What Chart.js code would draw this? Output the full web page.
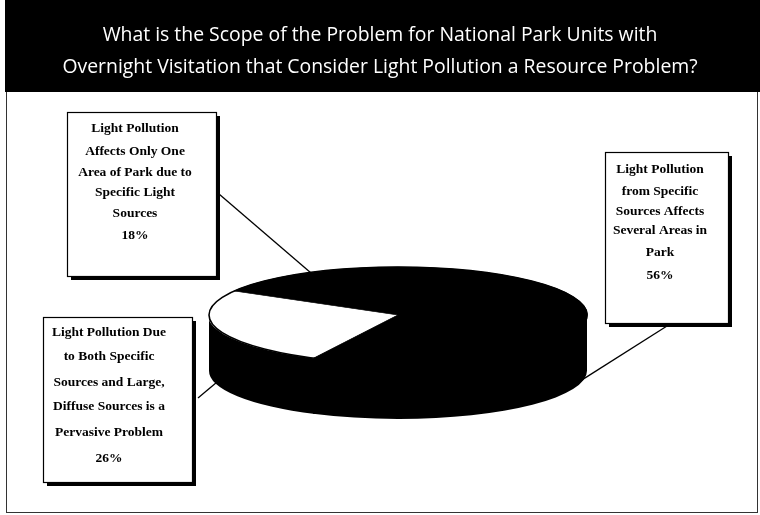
<!DOCTYPE html>
<html>
<head>
<meta charset="utf-8">
<script src="https://cdn.jsdelivr.net/npm/chart.js@4.4.1/dist/chart.umd.min.js"></script>
<style>
  html, body { margin: 0; padding: 0; background: #ffffff; }
  #wrap { width: 760px; height: 515px; }
</style>
</head>
<body>
<div id="wrap"><canvas id="c" width="760" height="515"></canvas></div>
<script>
// ---- data ----
const titleLines = [
  'What is the Scope of the Problem for National Park Units with',
  'Overnight Visitation that Consider Light Pollution a Resource Problem?'
];
const categories = [
  ['Light Pollution Due', 'to Both Specific', 'Sources and Large,', 'Diffuse Sources is a', 'Pervasive Problem'],
  ['Light Pollution', 'Affects Only One', 'Area of Park due to', 'Specific Light', 'Sources'],
  ['Light Pollution', 'from Specific', 'Sources Affects', 'Several Areas in', 'Park']
];
const shares = [26, 18, 56];            // percent of park units
const sliceColors = ['#ffffff', '#000000', '#000000'];

// ---- look of the 3-D disc ----
const DISC = { cx: 398, cy: 315, rx: 189, ry: 48, depth: 56, wall: '#000000' };

// callout boxes: frame, text centre, line positions, leader start
const CALLOUTS = [
  { box: [43, 317, 149, 165], tx: 109, ty: [333, 357, 383, 407, 433, 459], from: [198, 398] },
  { box: [67, 112, 149, 164], tx: 135, ty: [129, 152, 173, 193, 214, 236], from: [219, 194] },
  { box: [605, 152, 123, 171], tx: 660, ty: [170, 192, 212, 231, 253, 276], from: [667, 326] }
];

const TAU = Math.PI * 2;

// pick a title size so the longer line spans about 635px
const TITLE_FAMILY = '"Open Sans", Lato, sans-serif';
const titleSize = (() => {
  const m = document.createElement('canvas').getContext('2d');
  m.font = '20px ' + TITLE_FAMILY;
  const w = m.measureText(titleLines[1]).width;
  return Math.round(20 * 635 / w * 10) / 10;
})();

// banner behind the title and thin frame round the chart panel
const framePlugin = {
  id: 'frame',
  beforeDraw(chart) {
    const ctx = chart.ctx;
    ctx.save();
    ctx.fillStyle = '#ffffff';
    ctx.fillRect(0, 0, chart.width, chart.height);
    ctx.strokeStyle = '#333333';
    ctx.lineWidth = 1;
    ctx.strokeRect(6.5, 91.5, 751, 421);
    ctx.fillStyle = '#000000';
    ctx.fillRect(5, 0, 755, 92);
    ctx.restore();
  }
};

// squash the pie into a tilted disc and give it a wall
const discPlugin = {
  id: 'disc',
  beforeDatasetsDraw(chart) {
    const ctx = chart.ctx;
    const arcs = chart.getDatasetMeta(0).data;
    const { cx, cy, rx, ry, depth, wall } = DISC;
    const pt = (a, dy) => [cx + rx * Math.cos(a), cy + dy + ry * Math.sin(a)];
    const overlap = 0.006;   // small overlap so neighbouring wall pieces leave no seam

    // wall of each slice where it faces the viewer (angles 0..PI)
    ctx.save();
    ctx.fillStyle = wall;
    arcs.forEach((arc) => {
      const { startAngle, endAngle } = arc.getProps(['startAngle', 'endAngle'], true);
      for (let k = -1; k <= 2; k++) {
        let a1 = Math.max(startAngle, TAU * k);
        let a2 = Math.min(endAngle, TAU * k + Math.PI);
        if (a2 <= a1) continue;
        a1 -= overlap;
        a2 += overlap;
        ctx.beginPath();
        ctx.moveTo(cx, cy);
        ctx.lineTo(...pt(a1, 0));
        ctx.lineTo(...pt(a1, depth));
        ctx.ellipse(cx, cy + depth, rx, ry, 0, a1, a2, false);
        ctx.lineTo(...pt(a2, 0));
        ctx.closePath();
        ctx.fill();
      }
    });
    ctx.restore();

    const { x, y, outerRadius } = arcs[0].getProps(['x', 'y', 'outerRadius'], true);
    ctx.save();
    ctx.translate(cx, cy);
    ctx.scale(rx / outerRadius, ry / outerRadius);
    ctx.translate(-x, -y);
  },
  afterDatasetsDraw(chart) {
    const ctx = chart.ctx;
    ctx.restore();
    const { cx, cy, rx, ry } = DISC;
    ctx.save();
    ctx.strokeStyle = '#000000';
    ctx.lineWidth = 1.6;
    ctx.beginPath();
    ctx.ellipse(cx, cy, rx, ry, 0, 0, TAU);
    ctx.stroke();
    ctx.restore();
  }
};

// label boxes with drop shadows and leader lines to their slices
const calloutPlugin = {
  id: 'callouts',
  afterDraw(chart) {
    const ctx = chart.ctx;
    const arcs = chart.getDatasetMeta(0).data;
    const { cx, cy, rx, ry, depth } = DISC;
    ctx.save();
    CALLOUTS.forEach((c, i) => {
      const { startAngle, endAngle } = arcs[i].getProps(['startAngle', 'endAngle'], true);
      const mid = (startAngle + endAngle) / 2;
      const s = Math.sin(mid);
      const ex = cx + rx * Math.cos(mid);
      const ey = cy + ry * s + (s > 0.15 ? depth * 0.95 : 0);

      ctx.strokeStyle = '#000000';
      ctx.lineWidth = 1.3;
      ctx.beginPath();
      ctx.moveTo(c.from[0], c.from[1]);
      ctx.lineTo(ex, ey);
      ctx.stroke();

      const [bx, by, bw, bh] = c.box;
      ctx.fillStyle = '#000000';
      ctx.fillRect(bx + 4, by + 4, bw, bh);
      ctx.fillStyle = '#ffffff';
      ctx.fillRect(bx, by, bw, bh);
      ctx.lineWidth = 1.2;
      ctx.strokeRect(bx + 0.5, by + 0.5, bw, bh);

      ctx.fillStyle = '#000000';
      ctx.font = 'bold 13.5px "Liberation Serif", "Times New Roman", serif';
      ctx.textAlign = 'center';
      ctx.textBaseline = 'middle';
      const lines = categories[i].concat([shares[i] + '%']);
      lines.forEach((t, j) => ctx.fillText(t, c.tx, c.ty[j]));
    });
    ctx.restore();
  }
};

new Chart(document.getElementById('c'), {
  type: 'pie',
  data: {
    labels: categories.map(l => l.join(' ')),
    datasets: [{
      data: shares,
      backgroundColor: sliceColors,
      borderColor: sliceColors,
      borderWidth: 2,
      clip: false
    }]
  },
  options: {
    responsive: false,
    animation: false,
    events: [],
    rotation: 206.4,
    layout: { padding: { top: 0, bottom: 20, left: 0, right: 0 } },
    plugins: {
      legend: { display: false },
      tooltip: { enabled: false },
      title: {
        display: true,
        text: titleLines,
        color: '#ffffff',
        font: { family: TITLE_FAMILY, size: titleSize, weight: 'normal', lineHeight: '32px' },
        padding: { top: 19, bottom: 10 }
      }
    }
  },
  plugins: [framePlugin, discPlugin, calloutPlugin]
});
</script>
</body>
</html>
